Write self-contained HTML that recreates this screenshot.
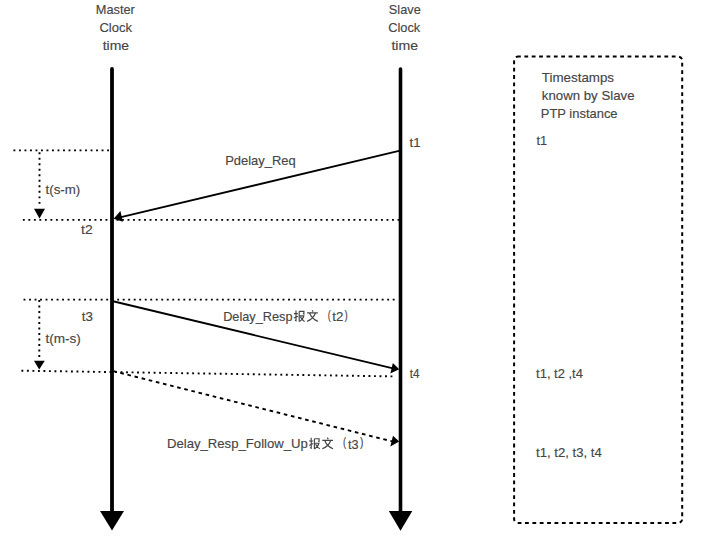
<!DOCTYPE html>
<html><head><meta charset="utf-8">
<style>
html,body{margin:0;padding:0;background:#fff;}
body{width:709px;height:543px;overflow:hidden;}
svg{display:block;}
text{font-family:"Liberation Sans",sans-serif;font-size:13.5px;fill:#454545;stroke:#454545;stroke-width:0.15px;}
</style></head>
<body>
<svg width="709" height="543" viewBox="0 0 709 543">
<defs>
  <g id="bao" fill="none" stroke="#454545" stroke-width="1.15">
    <path d="M0.3 3.4H4.3M2.4 0.2V10.6L1.4 10M0.3 7.9L4.4 6"/>
    <path d="M5.6 1.1H10.3V3.8L9.3 3.6M5.6 1.1V11.4"/>
    <path d="M5.6 5.6H10.2Q9.4 9.2 5.7 11.3M6.8 6.6Q8.2 9.8 11 11.2"/>
  </g>
  <g id="wen" fill="none" stroke="#454545" stroke-width="1.15">
    <path d="M5.3 0L6.3 1.5M0.3 2.7H11M2.8 3.1Q5 8.6 11 11.2M8.6 3.1Q6.6 8.6 0.3 11.2"/>
  </g>
</defs>

<!-- timelines -->
<line x1="112" y1="69" x2="112" y2="512" stroke="#000" stroke-width="3.8" stroke-linecap="round"/>
<polygon points="100,511 124,511 112,530.5" fill="#000"/>
<line x1="400.5" y1="69" x2="400.5" y2="512" stroke="#000" stroke-width="3.6" stroke-linecap="round"/>
<polygon points="388.8,511 412.3,511 400.5,530.8" fill="#000"/>

<!-- dotted lines -->
<g stroke="#000" stroke-width="1.9" stroke-dasharray="1.9 3.61" fill="none">
  <line x1="13.45" y1="150.4" x2="110" y2="150.4"/>
  <line x1="22.85" y1="219.9" x2="399" y2="219.9"/>
  <line x1="23.55" y1="299.6" x2="395" y2="299.6"/>
  <line x1="21.4" y1="370.7" x2="393.6" y2="376.4"/>
  <line x1="39.5" y1="152.3" x2="39.5" y2="207"/>
  <line x1="39.3" y1="300" x2="39.3" y2="359"/>
</g>
<polygon points="34,208.8 45,208.8 39.5,218.5" fill="#000"/>
<polygon points="34,360.8 44.8,360.8 39.2,369.6" fill="#000"/>

<!-- Pdelay_Req arrow -->
<line x1="400" y1="150.7" x2="120" y2="217.4" stroke="#000" stroke-width="1.8"/>
<polygon points="113.6,218.7 120.4,210.9 122.9,221.7" fill="#000"/>

<!-- Delay_Resp arrow -->
<line x1="112" y1="301" x2="393" y2="368.4" stroke="#000" stroke-width="1.8"/>
<polygon points="399.2,369.2 392.9,363 390.3,373.5" fill="#000"/>

<!-- Follow_Up dashed arrow -->
<line x1="112" y1="370.8" x2="393" y2="441.6" stroke="#000" stroke-width="1.9" stroke-dasharray="3.6 3.73" stroke-dashoffset="6.09"/>
<polygon points="399.2,441.6 393,435.8 390.3,446.5" fill="#000"/>

<!-- right box -->
<rect x="514.1" y="56.6" width="168.1" height="466.4" rx="4" ry="4" fill="none" stroke="#000" stroke-width="2" stroke-dasharray="3.8 3.57" stroke-dashoffset="1.1"/>

<!-- CJK -->
<use href="#bao" x="293.6" y="310.2"/>
<use href="#wen" x="306.8" y="310.2"/>
<use href="#bao" x="308.8" y="437.6"/>
<use href="#wen" x="322" y="437.6"/>

<!-- texts -->
<text x="95.75" y="13.7" textLength="39.07" lengthAdjust="spacingAndGlyphs">Master</text>
<text x="99.40" y="31.9" textLength="32.66" lengthAdjust="spacingAndGlyphs">Clock</text>
<text x="102.70" y="50.3" textLength="26.43" lengthAdjust="spacingAndGlyphs">time</text>
<text x="388.80" y="13.7" textLength="31.98" lengthAdjust="spacingAndGlyphs">Slave</text>
<text x="388.20" y="31.9" textLength="32.06" lengthAdjust="spacingAndGlyphs">Clock</text>
<text x="391.40" y="50.3" textLength="26.63" lengthAdjust="spacingAndGlyphs">time</text>
<text x="409.50" y="146.6" textLength="11.00" lengthAdjust="spacingAndGlyphs">t1</text>
<text x="81.10" y="233.6" textLength="11.62" lengthAdjust="spacingAndGlyphs">t2</text>
<text x="225.14" y="165.0" textLength="70.55" lengthAdjust="spacingAndGlyphs">Pdelay_Req</text>
<text x="45.60" y="193.5" textLength="34.69" lengthAdjust="spacingAndGlyphs">t(s-m)</text>
<text x="81.70" y="320.7" textLength="11.10" lengthAdjust="spacingAndGlyphs">t3</text>
<text x="45.40" y="343.3" textLength="35.40" lengthAdjust="spacingAndGlyphs">t(m-s)</text>
<text x="409.70" y="378.1" textLength="9.68" lengthAdjust="spacingAndGlyphs">t4</text>
<text x="223.16" y="320.6" textLength="69.32" lengthAdjust="spacingAndGlyphs">Delay_Resp</text>
<text x="327.80" y="318.6" textLength="3.00" lengthAdjust="spacingAndGlyphs" style="font-size:12px">(</text>
<text x="332.30" y="320.6" textLength="11.10" lengthAdjust="spacingAndGlyphs">t2</text>
<text x="344.60" y="318.6" textLength="3.20" lengthAdjust="spacingAndGlyphs" style="font-size:12px">)</text>
<text x="166.93" y="448.1" textLength="140.97" lengthAdjust="spacingAndGlyphs">Delay_Resp_Follow_Up</text>
<text x="342.90" y="445.6" textLength="3.10" lengthAdjust="spacingAndGlyphs" style="font-size:12px">(</text>
<text x="347.90" y="448.5" textLength="10.58" lengthAdjust="spacingAndGlyphs">t3</text>
<text x="359.90" y="445.6" textLength="3.40" lengthAdjust="spacingAndGlyphs" style="font-size:12px">)</text>
<text x="541.80" y="81.7" textLength="72.25" lengthAdjust="spacingAndGlyphs">Timestamps</text>
<text x="541.80" y="99.9" textLength="92.70" lengthAdjust="spacingAndGlyphs">known by Slave</text>
<text x="540.84" y="118.4" textLength="76.74" lengthAdjust="spacingAndGlyphs">PTP instance</text>
<text x="536.40" y="144.6" textLength="10.68" lengthAdjust="spacingAndGlyphs">t1</text>
<text x="536.10" y="378.3" textLength="46.73" lengthAdjust="spacingAndGlyphs">t1, t2 ,t4</text>
<text x="536.10" y="457.2" textLength="65.72" lengthAdjust="spacingAndGlyphs">t1, t2, t3, t4</text>
</svg>
</body></html>
